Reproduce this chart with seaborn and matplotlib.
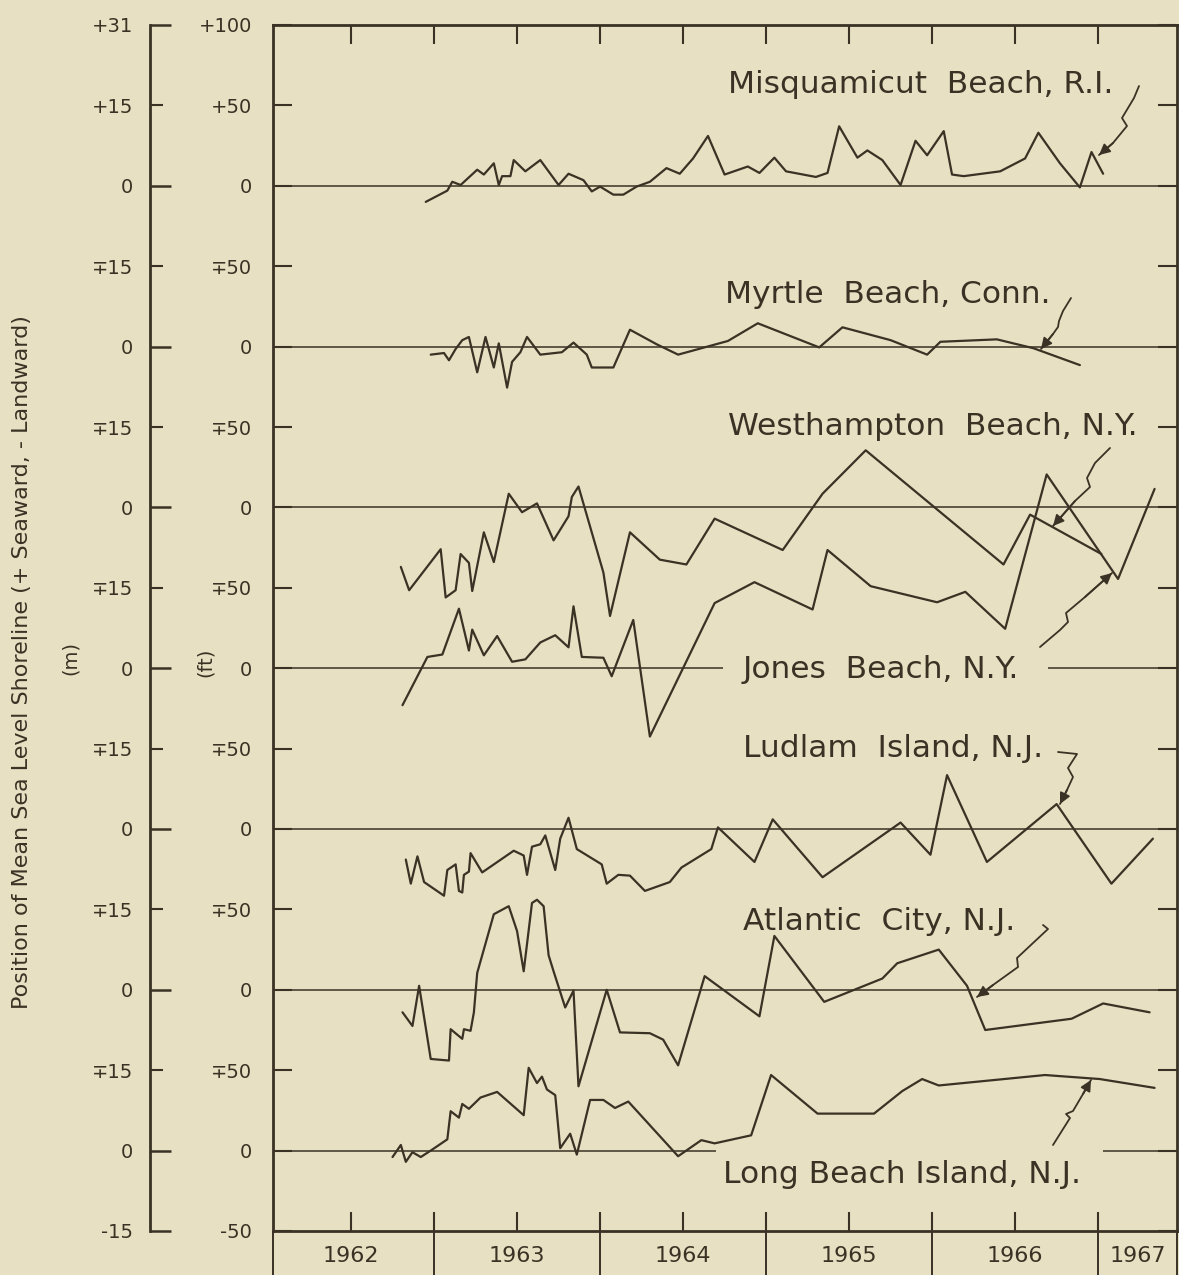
import numpy as np
import pandas as pd
import seaborn as sns
import matplotlib.pyplot as plt
from matplotlib.lines import Line2D

# ---- data (decimal year, shoreline position in ft) ----
misq_yr = [1962.95, 1963.08, 1963.11, 1963.16, 1963.26, 1963.30, 1963.36, 1963.39, 1963.41, 1963.46,
           1963.48, 1963.55, 1963.64, 1963.75, 1963.81, 1963.90, 1963.95, 1964.00, 1964.08, 1964.14,
           1964.22, 1964.30, 1964.40, 1964.48, 1964.56, 1964.65, 1964.75, 1964.89, 1964.96, 1965.05,
           1965.12, 1965.30, 1965.37, 1965.44, 1965.55, 1965.61, 1965.70, 1965.81, 1965.90, 1965.97,
           1966.07, 1966.12, 1966.19, 1966.41, 1966.56, 1966.64, 1966.77, 1966.89, 1966.96, 1967.03]
misq_ft = [-10, -3, 2.5, 0.5, 10, 7, 14, 0.5, 6, 6,
           16, 9, 16, 0.5, 7.5, 3.5, -3.5, -0.5, -5.5, -5.5,
           -0.5, 2.5, 11, 7.5, 17, 31, 7, 12, 8, 17.5,
           9, 5.5, 8, 37, 17.5, 22, 16, 0.5, 28, 19,
           34, 7, 6, 9, 17, 33, 14, -1, 21, 7.5]

myrtle_yr = [1962.98, 1963.06, 1963.09, 1963.13, 1963.17, 1963.21, 1963.26, 1963.31, 1963.36, 1963.39,
             1963.44, 1963.47, 1963.52, 1963.56, 1963.64, 1963.77, 1963.84, 1963.92, 1963.95, 1964.08,
             1964.18, 1964.34, 1964.47, 1964.77, 1964.95, 1965.32, 1965.46, 1965.75, 1965.97, 1966.05,
             1966.39, 1966.61, 1966.89]
myrtle_ft = [-5, -4, -8.5, -1.5, 4, 6, -16, 6, -13, 2,
             -25.5, -9.5, -3.5, 6, -5, -3.5, 2.5, -5, -13, -13,
             10.5, 1.5, -5, 3.5, 14.5, -0.5, 12, 4, -5, 3,
             4.5, -1, -11.5]

west_yr = [1962.80, 1962.85, 1963.04, 1963.07, 1963.13, 1963.16, 1963.21, 1963.23, 1963.30, 1963.36,
           1963.45, 1963.53, 1963.62, 1963.72, 1963.81, 1963.83, 1963.87, 1964.02, 1964.06, 1964.18,
           1964.36, 1964.52, 1964.69, 1965.10, 1965.34, 1965.60, 1966.43, 1966.59, 1967.02]
west_ft = [-37, -51.5, -26, -56, -51.5, -29, -34.5, -52, -15.5, -34,
           8.5, -3, 2.5, -20.5, -5.5, 6.5, 13, -40.5, -67.5, -15.5,
           -32.5, -35.5, -7, -26.5, 8.5, 35.5, -35.5, -4.5, -29]

jones_yr = [1962.81, 1962.96, 1963.05, 1963.15, 1963.21, 1963.23, 1963.30, 1963.38, 1963.47, 1963.55,
            1963.64, 1963.73, 1963.81, 1963.84, 1963.89, 1964.02, 1964.07, 1964.20, 1964.30, 1964.69,
            1964.93, 1965.28, 1965.37, 1965.63, 1966.03, 1966.20, 1966.44, 1966.69, 1967.12, 1967.34]
jones_ft = [-23, 7, 8.5, 37, 11, 24, 8, 20, 4, 5.5,
            16, 20.5, 13, 38.5, 7, 6.5, -5, 30, -42.5, 40.5,
            53.5, 36.5, 73.5, 51, 41, 47.5, 24.5, 120.5, 55.5, 111.5]

ludlam_yr = [1962.83, 1962.86, 1962.90, 1962.94, 1963.06, 1963.08, 1963.13, 1963.15, 1963.17, 1963.18,
             1963.21, 1963.22, 1963.29, 1963.48, 1963.54, 1963.56, 1963.59, 1963.64, 1963.67, 1963.73,
             1963.76, 1963.81, 1963.86, 1964.01, 1964.04, 1964.11, 1964.18, 1964.27, 1964.42, 1964.49,
             1964.67, 1964.71, 1964.93, 1965.04, 1965.34, 1965.81, 1965.99, 1966.09, 1966.33, 1966.75,
             1967.08, 1967.33]
ludlam_ft = [-19, -34, -17, -33, -41.5, -25.5, -22, -38.5, -39.5, -28.5,
             -26.5, -15, -27, -13.5, -16.5, -28.5, -11, -9.5, -4, -25.5,
             -6, 7, -12.5, -22, -34, -28.5, -29, -38.5, -33, -24,
             -12.5, 1, -20.5, 6, -30, 4, -16, 33.5, -20.5, 15.5,
             -34, -6]

atlantic_yr = [1962.81, 1962.87, 1962.91, 1962.98, 1963.09, 1963.10, 1963.17, 1963.18, 1963.22, 1963.24,
               1963.26, 1963.36, 1963.45, 1963.50, 1963.54, 1963.59, 1963.62, 1963.66, 1963.69, 1963.72,
               1963.79, 1963.84, 1963.87, 1964.04, 1964.12, 1964.30, 1964.38, 1964.47, 1964.63, 1964.96,
               1965.05, 1965.35, 1965.70, 1965.79, 1966.04, 1966.21, 1966.32, 1966.84, 1967.03, 1967.31]
atlantic_ft = [-14, -22.5, 2.5, -43, -44, -24.5, -30.5, -24.5, -25.5, -14,
               10.5, 47, 52, 36.5, 11.5, 54, 56, 52, 21.5, 11.5,
               -11, -0.5, -60, 0, -26.5, -27, -31, -47, 8.5, -16.5,
               33.5, -7.5, 7, 16.5, 25, 2.5, -25, -18, -8.5, -14]

lbi_yr = [1962.75, 1962.80, 1962.83, 1962.87, 1962.92, 1962.98, 1963.08, 1963.10, 1963.15, 1963.17,
          1963.21, 1963.28, 1963.38, 1963.54, 1963.57, 1963.62, 1963.65, 1963.68, 1963.73, 1963.76,
          1963.82, 1963.86, 1963.94, 1964.02, 1964.09, 1964.17, 1964.47, 1964.61, 1964.69, 1964.91,
          1965.03, 1965.31, 1965.65, 1965.82, 1965.94, 1966.04, 1966.68, 1967.01, 1967.34]
lbi_ft = [-4, 3.5, -7, -1, -4, 0, 7, 24.5, 20.5, 29,
          26, 33, 36.5, 22, 51.5, 42, 46, 38, 34.5, 1.5,
          10.5, -2.5, 31.5, 31.5, 26.5, 30.5, -3.5, 6.5, 4.5, 9.5,
          47, 23, 23, 37, 44.5, 40.5, 47, 44.5, 39]

sites = ["Misquamicut  Beach, R.I.", "Myrtle  Beach, Conn.", "Westhampton  Beach, N.Y.",
         "Jones  Beach, N.Y.", "Ludlam  Island, N.J.", "Atlantic  City, N.J.", "Long Beach Island, N.J."]
years = [misq_yr, myrtle_yr, west_yr, jones_yr, ludlam_yr, atlantic_yr, lbi_yr]
values = [misq_ft, myrtle_ft, west_ft, jones_ft, ludlam_ft, atlantic_ft, lbi_ft]
offsets = [600, 500, 400, 300, 200, 100, 0]   # each profile stacked 100 ft apart

ft_ticks = list(range(-50, 701, 50))
ft_labels = ["-50", "0", "∓50", "0", "∓50", "0", "∓50", "0", "∓50", "0", "∓50", "0", "∓50", "0", "+50", "+100"]
m_major = [-50, 0, 100, 200, 300, 400, 500, 600, 700]
m_major_labels = ["-15", "0", "0", "0", "0", "0", "0", "0", "+31"]
m_minor = [50, 150, 250, 350, 450, 550, 650]
m_minor_labels = ["∓15", "∓15", "∓15", "∓15", "∓15", "∓15", "+15"]
year_labels = ["1962", "1963", "1964", "1965", "1966", "1967"]
year_centers = [1962.5, 1963.5, 1964.5, 1965.5, 1966.5, 1967.24]
year_bounds = [1963, 1964, 1965, 1966, 1967]

BG = "#e8e0c2"
INK = "#3a3224"

sns.set_style("ticks")
plt.rcParams["font.family"] = ["DejaVu Sans"]
plt.rcParams["text.color"] = INK

W, H = 1179, 1275
fig = plt.figure(figsize=(W / 100, H / 100), dpi=100, facecolor=BG)
ax = fig.add_axes([273 / W, 44 / H, 904 / W, 1206 / H])
ax.set_facecolor(BG)

rows = []
for name, yr, ft, off in zip(sites, years, values, offsets):
    rows.append(pd.DataFrame({"site": name, "year": yr, "ft": ft, "pos": np.array(ft) + off}))
df = pd.concat(rows, ignore_index=True)

XMIN, XMAX = 1962.03, 1967.475
ax.set_xlim(XMIN, XMAX)
ax.set_ylim(-50, 700)

# zero lines for each station (two are broken by their labels)
gaps = {"Jones  Beach, N.Y.": (1964.74, 1966.70), "Long Beach Island, N.J.": (1964.70, 1967.03)}
for name, off in zip(sites, offsets):
    if name in gaps:
        a, b = gaps[name]
        ax.hlines(off, XMIN, a, color=INK, lw=1.1)
        ax.hlines(off, b, XMAX, color=INK, lw=1.1)
    else:
        ax.axhline(off, color=INK, lw=1.1)

for name in sites:
    sns.lineplot(data=df[df["site"] == name], x="year", y="pos", ax=ax, color=INK,
                 lw=1.6, sort=False, estimator=None)
ax.set_xlabel("")
ax.set_ylabel("")

for s in ax.spines.values():
    s.set_color(INK)
    s.set_linewidth(2)

ax.set_yticks(ft_ticks, ft_labels)
ax.tick_params(axis="y", direction="in", length=14, width=1.5, pad=15, labelsize=14,
               right=True, colors=INK)
ax.set_xticks(np.arange(1962.5, 1967.01, 0.5))
ax.tick_params(axis="x", direction="in", length=14, width=1.5, top=True, labelbottom=False, colors=INK)

# year boxes below the axis
ax.vlines(year_bounds + [XMIN, XMAX], -0.037, 0, transform=ax.get_xaxis_transform(),
          color=INK, lw=1.4, clip_on=False)
for lab, xc in zip(year_labels, year_centers):
    ax.text(xc, -0.021, lab, transform=ax.get_xaxis_transform(), ha="center", va="center",
            fontsize=16, color=INK)

# metre scale on the far left
axm = fig.add_axes([150 / W, 44 / H, 0.0001, 1206 / H])
axm.patch.set_visible(False)
axm.set_ylim(-50, 700)
axm.set_xticks([])
for k in ["top", "right", "bottom"]:
    axm.spines[k].set_visible(False)
axm.spines["left"].set_color(INK)
axm.spines["left"].set_linewidth(2)
axm.set_yticks(m_major, m_major_labels)
axm.set_yticks(m_minor, m_minor_labels, minor=True)
axm.tick_params(axis="y", which="major", direction="in", length=15, width=1.8, pad=12,
                labelsize=14, colors=INK)
axm.tick_params(axis="y", which="minor", direction="in", length=9, width=1.5, pad=12,
                labelsize=14, colors=INK)

# axis titles
fig.text(22 / W, 1 - 662 / H, "Position of Mean Sea Level Shoreline (+ Seaward, - Landward)",
         rotation=90, ha="center", va="center", fontsize=16, color=INK)
fig.text(70 / W, 1 - 658 / H, "(m)", rotation=90, ha="center", va="center", fontsize=14, color=INK)
fig.text(205 / W, 1 - 662 / H, "(ft)", rotation=90, ha="center", va="center", fontsize=14, color=INK)

# station names
label_pos = [(1964.77, 658), (1964.75, 527), (1964.77, 445), (1964.86, 294),
             (1964.86, 245), (1964.86, 137), (1964.74, -20)]
for name, (lx, ly) in zip(sites, label_pos):
    ax.text(lx, ly, name, ha="left", va="baseline", fontsize=22.5, color=INK)

# lightning-style leaders (image pixel positions)
leaders = [
    [(1139, 86), (1134, 98), (1122, 118), (1127, 126), (1113, 143), (1099, 155)],
    [(1071, 298), (1063, 311), (1059, 321), (1058, 327), (1053, 334), (1041, 349)],
    [(1110, 448), (1095, 463), (1087, 478), (1090, 487), (1075, 501), (1053, 526)],
    [(1040, 647), (1060, 630), (1068, 622), (1066, 613), (1085, 597), (1112, 573)],
    [(1058, 752), (1077, 754), (1068, 768), (1073, 777), (1067, 790), (1060, 804)],
    [(1043, 925), (1048, 929), (1017, 958), (1018, 967), (993, 985), (977, 997)],
    [(1053, 1145), (1070, 1118), (1066, 1114), (1073, 1111), (1083, 1094), (1091, 1080)],
]
for pts in leaders:
    xs = [p[0] / W for p in pts]
    ys = [1 - p[1] / H for p in pts]
    fig.add_artist(Line2D(xs, ys, transform=fig.transFigure, color=INK, lw=1.3))
    ax.annotate("", xy=(xs[-1], ys[-1]), xytext=(xs[-2], ys[-2]), xycoords=fig.transFigure,
                textcoords=fig.transFigure,
                arrowprops=dict(arrowstyle="-|>", color=INK, lw=1.3, mutation_scale=16,
                                shrinkA=0, shrinkB=0))

fig.savefig("out.png", dpi=100, facecolor=BG)
